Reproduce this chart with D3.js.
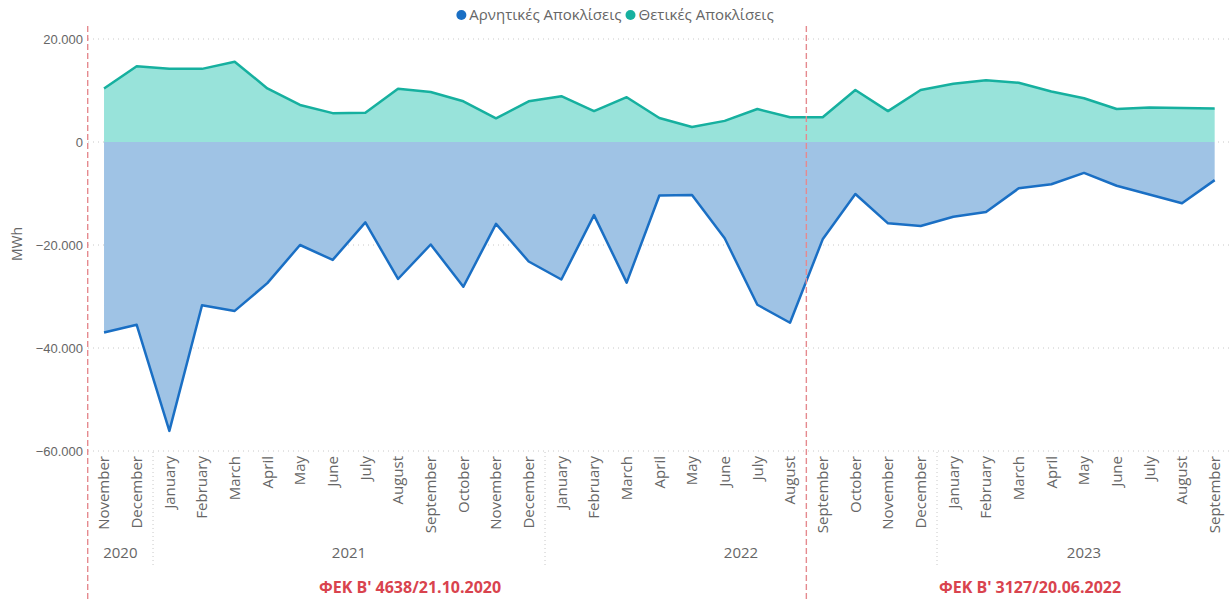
<!DOCTYPE html>
<html>
<head>
<meta charset="utf-8">
<script src="https://cdn.jsdelivr.net/npm/d3@7"></script>
<style>
  body { margin: 0; background: #fff; }
  svg { display: block; font-family: "Open Sans", "Noto Sans", sans-serif; }
</style>
</head>
<body>
<svg id="chart" width="1231" height="599"></svg>
<script>
// months shown on the axis, Nov 2020 .. Sep 2023
const months = ["November", "December",
  "January", "February", "March", "April", "May", "June", "July", "August", "September", "October", "November", "December",
  "January", "February", "March", "April", "May", "June", "July", "August", "September", "October", "November", "December",
  "January", "February", "March", "April", "May", "June", "July", "August", "September"];
const years = ["2020", "2020",
  "2021", "2021", "2021", "2021", "2021", "2021", "2021", "2021", "2021", "2021", "2021", "2021",
  "2022", "2022", "2022", "2022", "2022", "2022", "2022", "2022", "2022", "2022", "2022", "2022",
  "2023", "2023", "2023", "2023", "2023", "2023", "2023", "2023", "2023"];

// MWh
const positive = [10400, 14700, 14200, 14200, 15600, 10400, 7200, 5600, 5700, 10350, 9700, 7900, 4600, 7900,
  8900, 6000, 8700, 4650, 2900, 4100, 6400, 4800, 4800, 10100, 6000, 10100,
  11300, 12000, 11500, 9800, 8500, 6400, 6700, 6600, 6500];
const negative = [-37000, -35500, -56100, -31700, -32800, -27400, -20000, -22900, -15600, -26600, -19900, -28100, -15900, -23200,
  -26700, -14200, -27300, -10400, -10300, -18700, -31600, -35100, -18900, -10100, -15800, -16300,
  -14500, -13600, -9000, -8200, -6000, -8500, -10200, -11900, -7400];

const yTicks = [20000, 0, -20000, -40000, -60000];
const seriesNames = ["Αρνητικές Αποκλίσεις", "Θετικές Αποκλίσεις"];
const decrees = [
  { label: "ΦΕΚ Β' 4638/21.10.2020", start: 0 },
  { label: "ΦΕΚ Β' 3127/20.06.2022", start: 22 }
];

const svg = d3.select("#chart");
const width = 1231, height = 599;
const grey = "#666";
const negLine = "#1a6fc4", negFill = "#9fc3e5";
const posLine = "#16b09f", posFill = "#98e3da";

const idx = d3.range(months.length);
const x = d3.scaleBand().domain(idx).range([87.7, 1231]).padding(0);
const cx = (i) => x(i) + x.bandwidth() / 2;
const y = d3.scaleLinear().domain([-60000, 20000]).range([451, 39]);

const locale = d3.formatLocale({ decimal: ",", thousands: ".", grouping: [3], currency: ["", "€"] });
const fmt = locale.format(",d");

// grid lines
svg.append("g")
  .selectAll("line")
  .data(yTicks)
  .join("line")
  .attr("x1", 88).attr("x2", width)
  .attr("y1", (d) => y(d)).attr("y2", (d) => y(d))
  .attr("stroke", "#c8c8c8")
  .attr("stroke-dasharray", "1,4");

// y axis
const yAxis = svg.append("g")
  .attr("transform", "translate(85,0)")
  .call(d3.axisLeft(y).tickValues(yTicks).tickFormat(fmt).tickSize(0).tickPadding(2));
yAxis.select(".domain").remove();
yAxis.selectAll("text").attr("fill", grey).style("font-size", "13px").style("font-family", "inherit");

svg.append("text")
  .attr("transform", "translate(22,244) rotate(-90)")
  .attr("text-anchor", "middle")
  .attr("fill", grey)
  .style("font-size", "14px")
  .text("MWh");

// areas
const area = (vals) => d3.area()
  .x((d, i) => cx(i))
  .y0(y(0))
  .y1((d) => y(d))(vals);
const line = (vals) => d3.line()
  .x((d, i) => cx(i))
  .y((d) => y(d))(vals);

svg.append("path").attr("d", area(negative)).attr("fill", negFill);
svg.append("path").attr("d", area(positive)).attr("fill", posFill);
svg.append("path").attr("d", line(negative)).attr("fill", "none").attr("stroke", negLine)
  .attr("stroke-width", 2.5).attr("stroke-linejoin", "round");
svg.append("path").attr("d", line(positive)).attr("fill", "none").attr("stroke", posLine)
  .attr("stroke-width", 2.5).attr("stroke-linejoin", "round");

// month labels
svg.append("g")
  .selectAll("text")
  .data(months)
  .join("text")
  .attr("transform", (d, i) => `translate(${cx(i)},456) rotate(-90)`)
  .attr("dy", "0.35em")
  .attr("text-anchor", "end")
  .attr("fill", grey)
  .style("font-size", "15px")
  .text((d) => d);

// year groups
const groups = d3.groups(idx, (i) => years[i]);
svg.append("g")
  .selectAll("text")
  .data(groups)
  .join("text")
  .attr("x", (g) => (cx(g[1][0]) + cx(g[1][g[1].length - 1])) / 2)
  .attr("y", 558)
  .attr("text-anchor", "middle")
  .attr("fill", grey)
  .style("font-size", "15px")
  .text((g) => g[0]);

svg.append("g")
  .selectAll("line")
  .data(groups.slice(1))
  .join("line")
  .attr("x1", (g) => x(g[1][0])).attr("x2", (g) => x(g[1][0]))
  .attr("y1", 452).attr("y2", 567)
  .attr("stroke", "#c8c8c8")
  .attr("stroke-dasharray", "1,3");

// decree markers
svg.append("g")
  .selectAll("line")
  .data(decrees)
  .join("line")
  .attr("x1", (d) => x(d.start)).attr("x2", (d) => x(d.start))
  .attr("y1", 26).attr("y2", height)
  .attr("stroke", "#e58a8f")
  .attr("stroke-width", 1.4)
  .attr("stroke-dasharray", "6,3");

const decreeX = [410, 1030];
svg.append("g")
  .selectAll("text")
  .data(decrees)
  .join("text")
  .attr("x", (d, i) => decreeX[i])
  .attr("y", 593)
  .attr("text-anchor", "middle")
  .attr("fill", "#d9434e")
  .style("font-size", "16px")
  .style("font-weight", "bold")
  .text((d) => d.label);

// legend
const legend = svg.append("g").attr("transform", "translate(0,15)");
const colors = [negLine, posLine];
let lx = 0;
const items = legend.selectAll("g")
  .data(seriesNames)
  .join("g");
items.append("circle").attr("r", 5).attr("cy", 0).attr("fill", (d, i) => colors[i]);
items.append("text")
  .attr("x", 8)
  .attr("dy", "0.35em")
  .attr("fill", grey)
  .style("font-size", "15px")
  .text((d) => d);
items.each(function () {
  const w = this.querySelector("text").getComputedTextLength();
  d3.select(this).attr("transform", `translate(${lx + 5},0)`);
  lx += w + 8 + 5 + 4;
});
legend.attr("transform", `translate(${617 - lx / 2},15)`);
</script>
</body>
</html>
